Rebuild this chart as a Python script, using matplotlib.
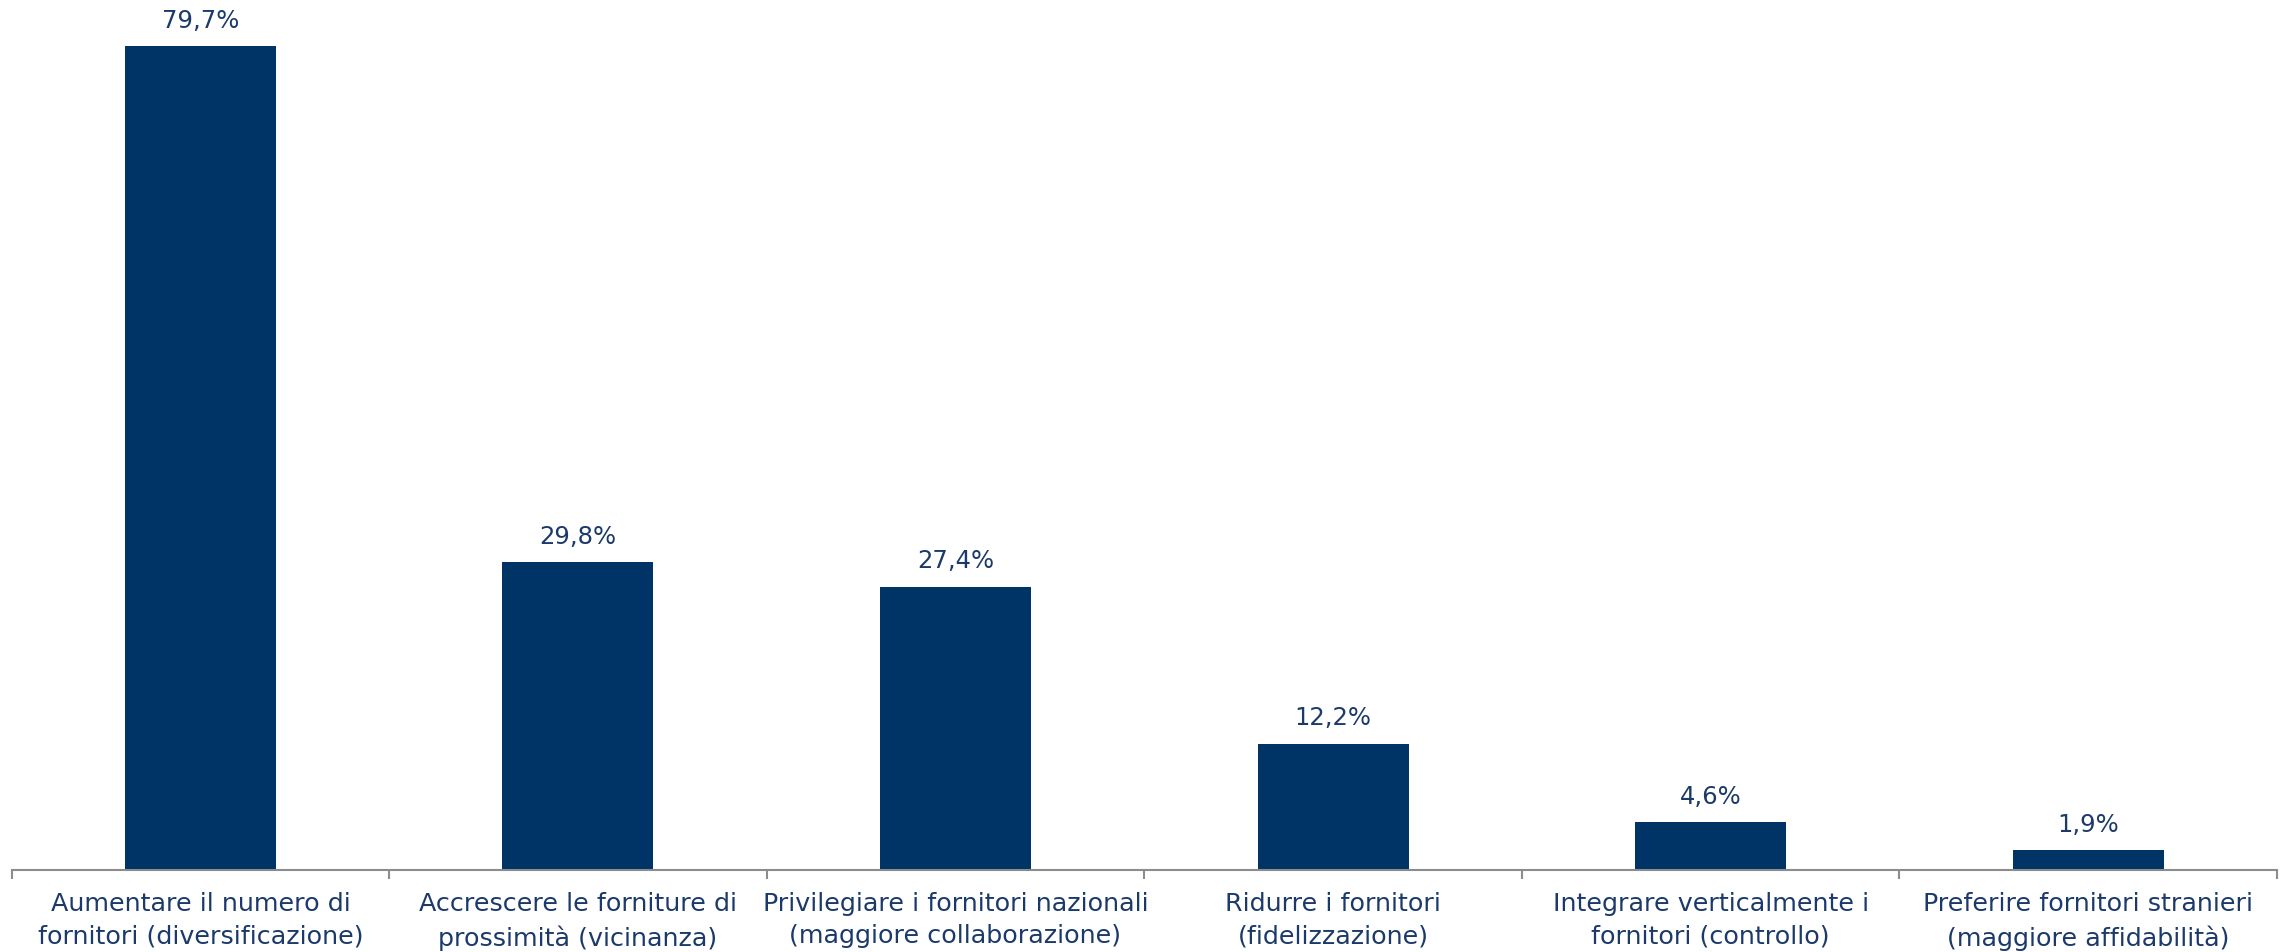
import matplotlib
matplotlib.use("Agg")
import matplotlib.pyplot as plt
import numpy as np

categories = [
    "Aumentare il numero di\nfornitori (diversificazione)",
    "Accrescere le forniture di\nprossimità (vicinanza)",
    "Privilegiare i fornitori nazionali\n(maggiore collaborazione)",
    "Ridurre i fornitori\n(fidelizzazione)",
    "Integrare verticalmente i\nfornitori (controllo)",
    "Preferire fornitori stranieri\n(maggiore affidabilità)",
]
values = [79.7, 29.8, 27.4, 12.2, 4.6, 1.9]
value_labels = ["79,7%", "29,8%", "27,4%", "12,2%", "4,6%", "1,9%"]

BAR = "#003366"
TXT = "#1B3A6B"
AXC = "#8C8C8C"

plt.rcParams['font.family'] = ['DejaVu Sans']

fig = plt.figure(figsize=(22.8, 9.52), dpi=100)
ax = fig.add_axes([0.0051, 0.0866, 0.9936, 0.9134])

x = np.arange(len(values))
ax.bar(x, values, width=0.4, color=BAR, zorder=2)
for xi, v, lab in zip(x, values, value_labels):
    ax.annotate(lab, (xi, v), xytext=(0, 9.5), textcoords="offset points",
                ha="center", va="bottom", fontsize=17.5, color=TXT)

ax.set_xlim(-0.5, len(values) - 0.5)
ax.set_ylim(0, 84.2)
ax.set_yticks([])
for s in ["top", "right", "left"]:
    ax.spines[s].set_visible(False)
ax.spines["bottom"].set_color(AXC)
ax.spines["bottom"].set_linewidth(1.5)

ax.set_xticks(x)
ax.set_xticklabels(categories, fontsize=18.3, color=TXT, linespacing=1.45)
ax.tick_params(axis="x", which="major", length=0, pad=16)
ax.set_xticks(np.arange(-0.5, len(values)), minor=True)
ax.tick_params(axis="x", which="minor", length=6.5, width=1.5, color=AXC, direction="out")

fig.savefig("out.png", dpi=100)
